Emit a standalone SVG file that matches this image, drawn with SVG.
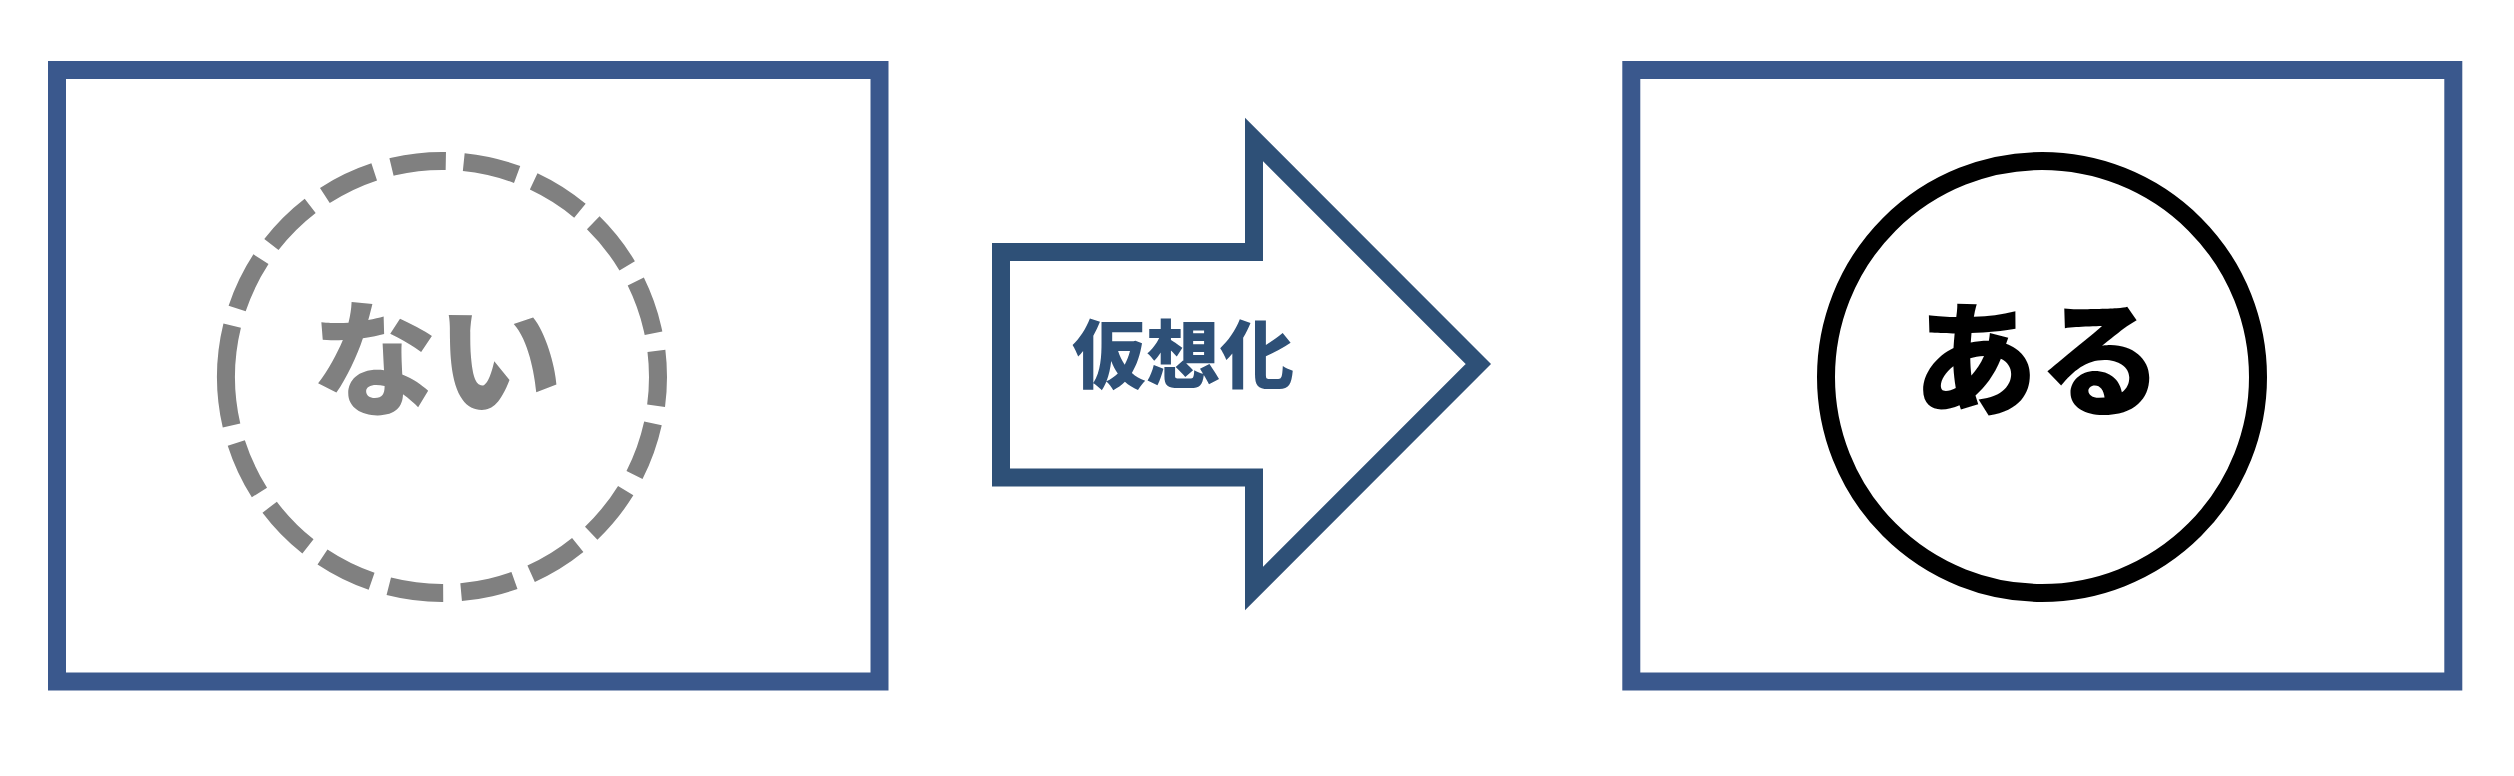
<svg xmlns="http://www.w3.org/2000/svg" width="2514" height="776" viewBox="0 0 2514 776">
  <style>
    .frame { fill: #FFFFFF; stroke: #3A588D; stroke-width: 18; }
    .lbl { font-family: "Noto Sans CJK JP", "Noto Sans", sans-serif; font-weight: 900; text-anchor: middle; }
  </style>
  <rect x="0" y="0" width="2514" height="776" fill="#FFFFFF"/>
  <g id="before">
    <rect class="frame" x="57" y="70" width="822.5" height="611.5"/>
    <circle cx="442" cy="377" r="216" fill="none" stroke="#808080" stroke-width="18" transform="rotate(167 442 377)" pathLength="1360" stroke-dasharray="101 18 55 18 55 18 55 18 55 18 55 18 55 18 55 18 55 18 55 18 55 18 55 18 55 18 55 18 55 18 55 18 55 18 55 18"/>
    <text class="lbl" x="437" y="406" font-size="125" fill="#808080">ない</text>
  </g>
  <g id="connectors">
    <g id="arrow">
      <polygon points="1001,252 1254,252 1254,139.5 1478.3,364 1254,588.5 1254,477.5 1001,477.5" fill="#FFFFFF" stroke="#2E5077" stroke-width="18" stroke-miterlimit="10"/>
      <text class="lbl" x="1183" y="382" font-size="74" fill="#2E5077">仮想化</text>
    </g>
  </g>
  <g id="after">
    <rect class="frame" x="1631.3" y="70" width="822" height="611.5"/>
    <circle cx="2042" cy="377" r="216" fill="none" stroke="#000000" stroke-width="18"/>
    <text class="lbl" x="2038" y="406" font-size="125" fill="#000000">ある</text>
  </g>
</svg>
